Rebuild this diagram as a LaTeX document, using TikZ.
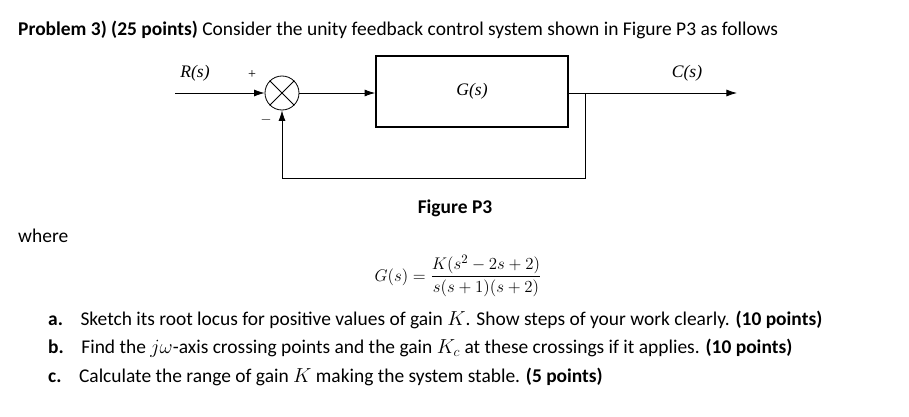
\documentclass[tikz,border=0pt]{standalone}
\usepackage{amsmath}
\usepackage{fontspec}
\setmainfont{Carlito}
\newfontfamily\tnr{Liberation Serif}
\usetikzlibrary{arrows.meta}
\begin{document}
\begin{tikzpicture}[x=0.03cm,y=-0.03cm,font=\fontsize{16.6}{20}\selectfont,
  line/.style={line width=0.7pt},
  arr/.style={line, -{Latex[length=9pt,width=6pt]}},
  lbl/.style={font=\tnr\fontsize{15}{18}\selectfont\itshape},
  txt/.style={anchor=west, inner sep=0pt}]
\useasboundingbox (0,0) rectangle (909,416);
% block diagram
\node [draw, line width=1.4pt, minimum width=192*0.03cm, minimum height=71*0.03cm] (plant) at (472,91.5) {};
\node [lbl] at (plant) {G(s)};
\node [draw, line, circle, minimum size=34*0.03cm, inner sep=0pt] (sum) at (282,93) {};
\draw [line] (sum.north west) -- (sum.south east) (sum.north east) -- (sum.south west);
\coordinate (in) at (175,93);
\coordinate (branch) at (585,93);
\coordinate (out) at (737,93);
\coordinate (fbr) at (585,178);
\coordinate (fbl) at (282,178);
\draw [arr] (in) -- (sum.west);
\draw [arr] (sum.east) -- (sum.east -| plant.west);
\draw [line] (branch -| plant.east) -- (branch);
\draw [arr] (branch) -- (out);
\draw [arr] (branch) -- (fbr) -- (fbl) -- (sum.south);
\node [lbl] at (195,73) {R(s)};
\node [lbl] at (687,73) {C(s)};
\node [font=\tnr\fontsize{12}{14}\selectfont] at (252,75) {+};
\node [font=\fontsize{12}{14}\selectfont] at (266,120) {$-$};
% text
\node [txt] (title) at (18,30) {\textbf{Problem 3) (25 points)} Consider the unity feedback control system shown in Figure P3 as follows};
\node (fig) at (455,208) {\textbf{Figure P3}};
\node [txt] (where) at (18,236) {where};
\node [font=\fontsize{15.5}{18}\selectfont] (eq) at (458,276) {$G(s) = \dfrac{K(s^2-2s+2)}{s(s+1)(s+2)}$};
\node [txt] (a) at (48,320) {\textbf{a.}\hspace{0.9em}Sketch its root locus for positive values of gain $K$. Show steps of your work clearly. \textbf{(10 points)}};
\node [txt] (b) at (48,348) {\textbf{b.}\hspace{0.9em}Find the $j\omega$-axis crossing points and the gain $K_c$ at these crossings if it applies. \textbf{(10 points)}};
\node [txt] (c) at (48,377) {\textbf{c.}\hspace{0.9em}Calculate the range of gain $K$ making the system stable. \textbf{(5 points)}};
\end{tikzpicture}
\end{document}
